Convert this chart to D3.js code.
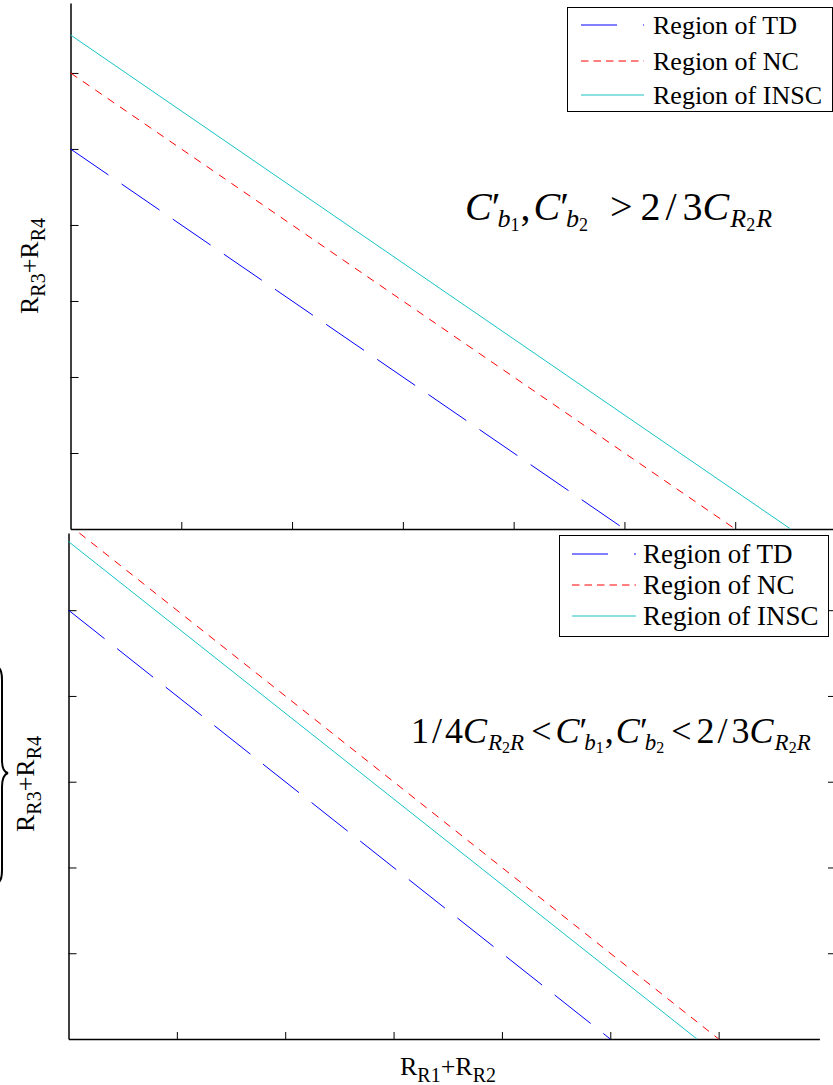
<!DOCTYPE html>
<html>
<head>
<meta charset="utf-8">
<script src="https://cdn.jsdelivr.net/npm/d3@7"></script>
<style>
  body { margin: 0; background: #fff; }
  svg { display: block; }
  text { font-family: "Liberation Serif", "Times New Roman", serif; fill: #000; }
  .domain { stroke: #000; stroke-width: 1.5; }
  .tick line { stroke: #000; stroke-width: 1; }
</style>
</head>
<body>
<div id="chart"></div>
<script>
// tick values (no tick labels in the figure)
var xTicks = [1, 2, 3, 4, 5, 6, 7];
var topYTicks = [1, 2, 3, 4, 5, 6];
var botYTicks = [1, 2, 3, 4, 5];
var seriesNames = ["Region of TD", "Region of NC", "Region of INSC"];

// upper plot: C'b1, C'b2 > 2/3 C_R2R
var topTDx = [0, 5], topTDy = [5, 0];
var topNCx = [0, 6], topNCy = [6, 0];
var topINSCx = [0, 6.5], topINSCy = [6.5, 0];

// lower plot: 1/4 C_R2R < C'b1, C'b2 < 2/3 C_R2R
var botTDx = [0, 5], botTDy = [5, 0];
var botNCx = [0.1, 6], botNCy = [5.9, 0];
var botINSCx = [0, 5.8], botINSCy = [5.8, 0];

var width = 833, height = 1085;
var colors = ["#0000ff", "#ff0000", "#19c4c4"];
var dashes = ["46,16", "8,7", null];
var legendDashes = ["36,26,2,40", "7.5,5", null];
var serif = "'Liberation Serif', 'Times New Roman', serif";

var svg = d3.select("#chart").append("svg")
  .attr("width", width)
  .attr("height", height);

function zip(xs, ys) {
  return xs.map(function(v, i) { return [v, ys[i]]; });
}

function panel(cfg) {
  var g = svg.append("g");
  var x = d3.scaleLinear().domain([0, 7]).range([cfg.left, cfg.right]);
  var y = d3.scaleLinear().domain([0, cfg.yMax]).range([cfg.bottom, cfg.top]);
  var xAxisScale = x.copy().domain([0, cfg.xMax]).range([x(0), x(cfg.xMax)]);

  g.append("g")
    .attr("transform", "translate(0," + cfg.bottom + ")")
    .call(d3.axisBottom(xAxisScale).tickValues(xTicks.filter(function(t) { return t <= cfg.xMax; }))
      .tickSize(-7).tickSizeOuter(0).tickFormat(""));

  g.append("g")
    .attr("transform", "translate(" + cfg.left + ",0)")
    .call(d3.axisLeft(y).tickValues(cfg.yTicks).tickSize(-8).tickSizeOuter(0).tickFormat(""));

  if (cfg.rightTicks) {
    var r = g.append("g")
      .attr("transform", "translate(" + cfg.rightAxis + ",0)")
      .call(d3.axisLeft(y).tickValues(cfg.yTicks).tickSize(8).tickSizeOuter(0).tickFormat(""));
    r.select(".domain").remove();
  }

  var line = d3.line()
    .x(function(d) { return x(d[0]); })
    .y(function(d) { return y(d[1]); });

  cfg.series.forEach(function(s, i) {
    g.append("path")
      .datum(s)
      .attr("d", line)
      .attr("fill", "none")
      .attr("stroke", colors[i])
      .attr("stroke-width", 1)
      .attr("stroke-dasharray", dashes[i]);
  });

  // legend
  var lg = g.append("g").attr("transform", "translate(" + cfg.legend[0] + "," + cfg.legend[1] + ")");
  lg.append("rect")
    .attr("x", 0.5).attr("y", 0.5)
    .attr("width", cfg.legend[2]).attr("height", cfg.legend[3])
    .attr("fill", "#fff").attr("stroke", "#000").attr("stroke-width", 1);
  seriesNames.forEach(function(name, i) {
    var yy = cfg.legendRows[i];
    lg.append("line")
      .attr("x1", cfg.legendLine[0]).attr("x2", cfg.legendLine[1])
      .attr("y1", yy).attr("y2", yy)
      .attr("stroke", colors[i]).attr("stroke-width", 1)
      .attr("stroke-dasharray", legendDashes[i]);
    lg.append("text")
      .attr("x", cfg.legendText)
      .attr("y", yy + cfg.legendBase)
      .style("font-family", serif)
      .style("font-size", cfg.legendFont + "px")
      .text(name);
  });

  return g;
}

panel({
  left: 70.5, right: 846, top: 3, bottom: 529, yMax: 6.92, xMax: 7, yTicks: topYTicks,
  series: [zip(topTDx, topTDy), zip(topNCx, topNCy), zip(topINSCx, topINSCy)],
  legend: [567, 7, 265, 104], legendRows: [18, 54, 88], legendLine: [14, 77],
  legendText: 86, legendBase: 9, legendFont: 26
});

panel({
  left: 68.5, right: 827, top: 533, bottom: 1039, yMax: 5.9, xMax: 6.93, yTicks: botYTicks,
  rightTicks: true, rightAxis: 836,
  series: [zip(botTDx, botTDy), zip(botNCx, botNCy), zip(botINSCx, botINSCy)],
  legend: [559, 535, 269, 101], legendRows: [19, 50, 81], legendLine: [13, 77],
  legendText: 84, legendBase: 9, legendFont: 27
});

// axis labels R_R3+R_R4 and R_R1+R_R2
function resLabel(sel, a, b) {
  sel.append("tspan").text("R");
  sel.append("tspan").attr("dy", 7).style("font-size", "20px").text(a);
  sel.append("tspan").attr("dy", -7).text("+R");
  sel.append("tspan").attr("dy", 7).style("font-size", "20px").text(b);
}

resLabel(svg.append("text").attr("transform", "translate(38,266) rotate(-90)")
  .attr("text-anchor", "middle").style("font-family", serif).style("font-size", "26px"), "R3", "R4");
resLabel(svg.append("text").attr("transform", "translate(34,784) rotate(-90)")
  .attr("text-anchor", "middle").style("font-family", serif).style("font-size", "26px"), "R3", "R4");
resLabel(svg.append("text").attr("x", 448).attr("y", 1075)
  .attr("text-anchor", "middle").style("font-family", serif).style("font-size", "26px"), "R1", "R2");

// formulas, flowing pieces: [text, level, italic, dx]; level 0 main, 1 sub, 2 sub-sub
function formula(x, y, sizes, drops, parts) {
  var t = svg.append("text").attr("x", x).attr("y", y).style("font-family", serif);
  var cur = 0;
  parts.forEach(function(p) {
    var lvl = p[1];
    t.append("tspan")
      .attr("dy", drops[lvl] - cur)
      .attr("dx", p[3] || 0)
      .style("font-size", sizes[lvl] + "px")
      .style("font-style", p[2] ? "italic" : "normal")
      .text(p[0]);
    cur = drops[lvl];
  });
}

formula(465, 220, [40, 26, 18], [0, 7, 11], [
  ["C", 0, 1], ["\u2032", 0, 0, 0], ["b", 1, 1, -3], ["1", 2, 0],
  [",", 0, 0, 1], ["C", 0, 1, 3], ["\u2032", 0, 0, 0], ["b", 1, 1, -3], ["2", 2, 0],
  [">", 0, 0, 22], ["2", 0, 0, 8], ["/", 0, 0, 5], ["3", 0, 0, 6],
  ["C", 0, 1], ["R", 1, 1, 1], ["2", 2, 0], ["R", 1, 1, 1]
]);

formula(411, 743, [36, 23, 16], [0, 7, 10], [
  ["1", 0, 0], ["/", 0, 0, 3], ["4", 0, 0, 3], ["C", 0, 1],
  ["R", 1, 1, 1], ["2", 2, 0], ["R", 1, 1],
  ["<", 0, 0, 7], ["C", 0, 1, 4], ["\u2032", 0, 0, 0], ["b", 1, 1, -3], ["1", 2, 0],
  [",", 0, 0, 1], ["C", 0, 1, 2], ["\u2032", 0, 0, 0], ["b", 1, 1, -3], ["2", 2, 0],
  ["<", 0, 0, 7], ["2", 0, 0, 5], ["/", 0, 0, 3], ["3", 0, 0, 4],
  ["C", 0, 1], ["R", 1, 1, 1], ["2", 2, 0], ["R", 1, 1]
]);

// brace fragment at left edge of lower plot
svg.append("path")
  .attr("d", "M-3,667 Q2,668 2,680 L2,760 Q2,772 8,773 Q2,775 2,787 L2,870 Q2,882 -3,883")
  .attr("fill", "none").attr("stroke", "#000").attr("stroke-width", 2);
</script>
</body>
</html>
